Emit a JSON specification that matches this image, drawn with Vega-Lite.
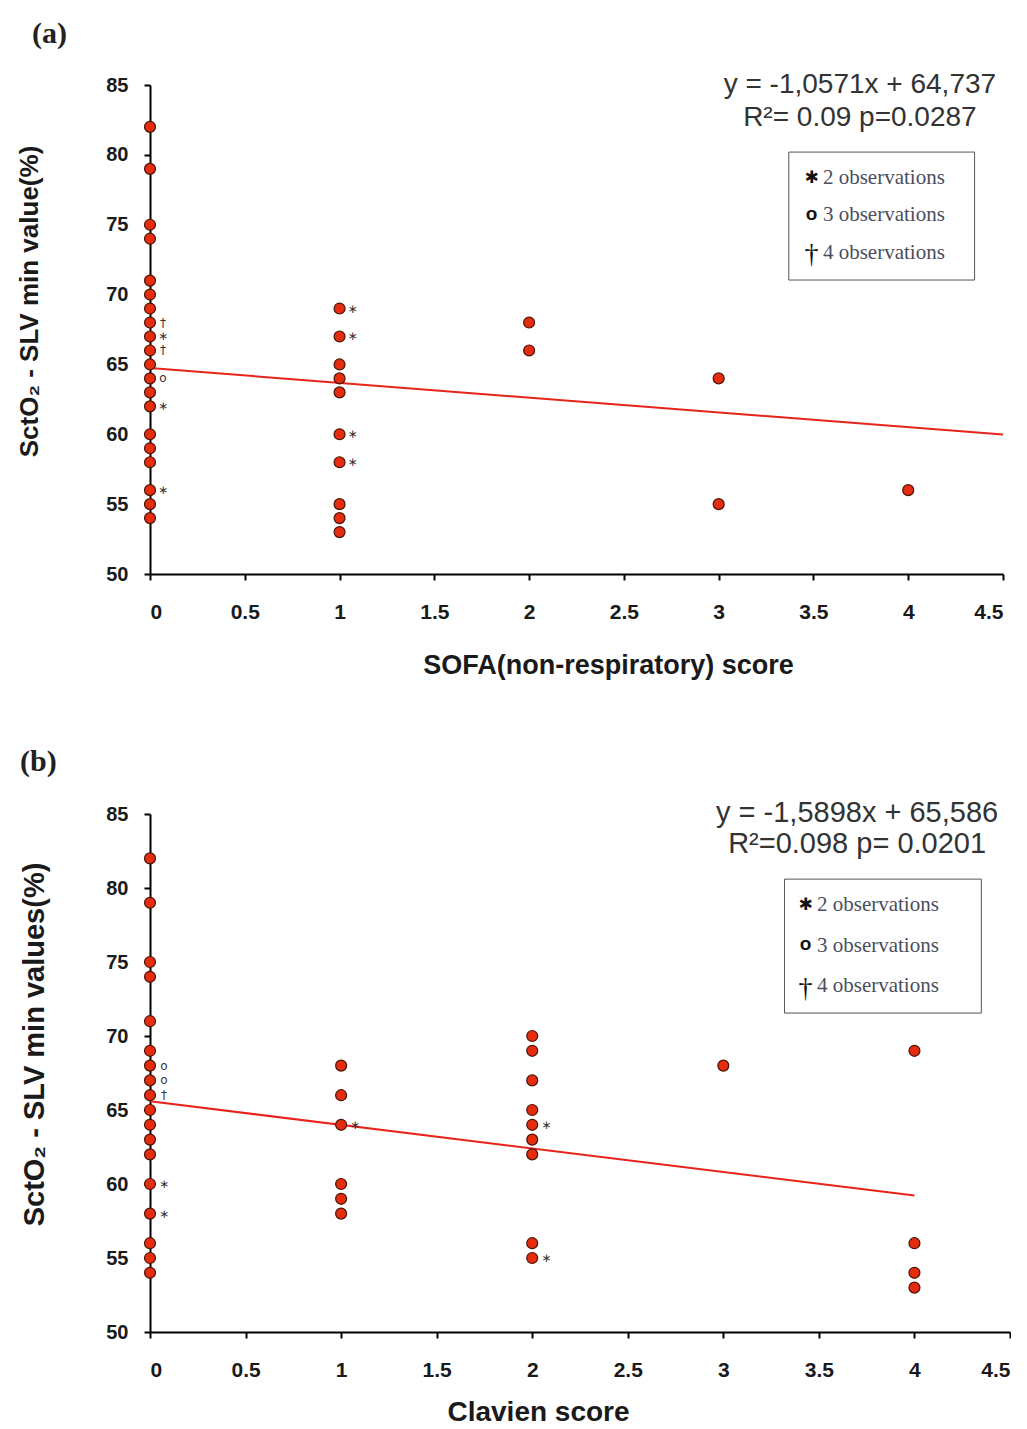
{
  "$schema": "https://vega.github.io/schema/vega-lite/v6.json",
  "padding": {"left": 15, "top": 19, "right": 0, "bottom": 0},
  "background": "white",
  "datasets": {
    "a": [
      {"x": 0, "y": 82, "note": ""}, {"x": 0, "y": 79, "note": ""}, {"x": 0, "y": 75, "note": ""}, {"x": 0, "y": 74, "note": ""},
      {"x": 0, "y": 71, "note": ""}, {"x": 0, "y": 70, "note": ""}, {"x": 0, "y": 69, "note": ""}, {"x": 0, "y": 68, "note": "†"},
      {"x": 0, "y": 67, "note": "∗"}, {"x": 0, "y": 66, "note": "†"}, {"x": 0, "y": 65, "note": ""}, {"x": 0, "y": 64, "note": "o"},
      {"x": 0, "y": 63, "note": ""}, {"x": 0, "y": 62, "note": "∗"}, {"x": 0, "y": 60, "note": ""}, {"x": 0, "y": 59, "note": ""},
      {"x": 0, "y": 58, "note": ""}, {"x": 0, "y": 56, "note": "∗"}, {"x": 0, "y": 55, "note": ""}, {"x": 0, "y": 54, "note": ""},
      {"x": 1, "y": 69, "note": "∗"}, {"x": 1, "y": 67, "note": "∗"}, {"x": 1, "y": 65, "note": ""}, {"x": 1, "y": 64, "note": ""},
      {"x": 1, "y": 63, "note": ""}, {"x": 1, "y": 60, "note": "∗"}, {"x": 1, "y": 58, "note": "∗"}, {"x": 1, "y": 55, "note": ""},
      {"x": 1, "y": 54, "note": ""}, {"x": 1, "y": 53, "note": ""},
      {"x": 2, "y": 68, "note": ""}, {"x": 2, "y": 66, "note": ""},
      {"x": 3, "y": 64, "note": ""}, {"x": 3, "y": 55, "note": ""},
      {"x": 4, "y": 56, "note": ""}
    ],
    "b": [
      {"x": 0, "y": 82, "note": ""}, {"x": 0, "y": 79, "note": ""}, {"x": 0, "y": 75, "note": ""}, {"x": 0, "y": 74, "note": ""},
      {"x": 0, "y": 71, "note": ""}, {"x": 0, "y": 69, "note": ""}, {"x": 0, "y": 68, "note": "o"}, {"x": 0, "y": 67, "note": "o"},
      {"x": 0, "y": 66, "note": "†"}, {"x": 0, "y": 65, "note": ""}, {"x": 0, "y": 64, "note": ""}, {"x": 0, "y": 63, "note": ""},
      {"x": 0, "y": 62, "note": ""}, {"x": 0, "y": 60, "note": "∗"}, {"x": 0, "y": 58, "note": "∗"}, {"x": 0, "y": 56, "note": ""},
      {"x": 0, "y": 55, "note": ""}, {"x": 0, "y": 54, "note": ""},
      {"x": 1, "y": 68, "note": ""}, {"x": 1, "y": 66, "note": ""}, {"x": 1, "y": 64, "note": "∗"}, {"x": 1, "y": 60, "note": ""},
      {"x": 1, "y": 59, "note": ""}, {"x": 1, "y": 58, "note": ""},
      {"x": 2, "y": 70, "note": ""}, {"x": 2, "y": 69, "note": ""}, {"x": 2, "y": 67, "note": ""}, {"x": 2, "y": 65, "note": ""},
      {"x": 2, "y": 64, "note": "∗"}, {"x": 2, "y": 63, "note": ""}, {"x": 2, "y": 62, "note": ""}, {"x": 2, "y": 56, "note": ""},
      {"x": 2, "y": 55, "note": "∗"},
      {"x": 3, "y": 68, "note": ""},
      {"x": 4, "y": 69, "note": ""}, {"x": 4, "y": 56, "note": ""}, {"x": 4, "y": 54, "note": ""}, {"x": 4, "y": 53, "note": ""}
    ],
    "aline": [{"x": 0, "y": 64.737}, {"x": 4.5, "y": 59.98}],
    "bline": [{"x": 0, "y": 65.586}, {"x": 4, "y": 59.227}],
    "one": [{}]
  },
  "columns": 1,
  "align": "none",
  "spacing": 68,
  "concat": [
    {
      "width": 853,
      "height": 489,
      "title": {"text": "(a)", "anchor": "start", "frame": "bounds", "font": "Liberation Serif", "fontSize": 30, "fontWeight": "bold", "color": "#222", "offset": 22, "dx": 16},
      "layer": [
        {
          "data": {"name": "aline"},
          "mark": {"type": "line", "color": "#e8231a", "strokeWidth": 2},
          "encoding": {
            "x": {"field": "x", "type": "quantitative", "scale": {"domain": [0, 4.5], "nice": false, "zero": false}},
            "y": {"field": "y", "type": "quantitative", "scale": {"domain": [50, 85], "nice": false, "zero": false}}
          }
        },
        {
          "data": {"name": "a"},
          "mark": {"type": "circle", "size": 120, "fill": "#e62c0e", "stroke": "#4a1406", "strokeWidth": 1.2, "opacity": 1},
          "encoding": {
            "x": {"field": "x", "type": "quantitative",
              "axis": {"values": [0, 0.5, 1, 1.5, 2, 2.5, 3, 3.5, 4, 4.5], "format": "~g", "title": "SOFA(non-respiratory) score",
                "labelFontSize": 21, "labelPadding": 21, "titleX": 458, "titleY": 91, "titleAlign": "center", "titleBaseline": "middle", "titleFontSize": 27}},
            "y": {"field": "y", "type": "quantitative",
              "axis": {"values": [50, 55, 60, 65, 70, 75, 80, 85], "title": "SctO₂ - SLV min value(%)", "labelFontSize": 20, "labelPadding": 16,
                "titleX": -121, "titleY": 216, "titleAngle": -90, "titleAlign": "center", "titleBaseline": "middle", "titleFontSize": 26}}
          }
        },
        {
          "data": {"name": "a"},
          "transform": [{"filter": "datum.note != ''"}],
          "mark": {"type": "text", "dx": 13, "align": "center", "baseline": "middle", "font": "DejaVu Sans", "fontSize": 12, "color": "#333"},
          "encoding": {
            "x": {"field": "x", "type": "quantitative"},
            "y": {"field": "y", "type": "quantitative"},
            "text": {"field": "note"}
          }
        },
        {
          "data": {"name": "one"},
          "mark": {"type": "text", "text": "y = -1,0571x + 64,737", "align": "center", "baseline": "middle", "font": "Liberation Sans", "fontSize": 28, "color": "#333"},
          "encoding": {"x": {"datum": 3.745, "type": "quantitative"}, "y": {"datum": 85, "type": "quantitative"}}
        },
        {
          "data": {"name": "one"},
          "mark": {"type": "text", "text": "R²= 0.09 p=0.0287", "align": "center", "baseline": "middle", "font": "Liberation Sans", "fontSize": 28, "color": "#333"},
          "encoding": {"x": {"datum": 3.745, "type": "quantitative"}, "y": {"datum": 82.64, "type": "quantitative"}}
        },
        {
          "data": {"name": "one"},
          "mark": {"type": "rect", "fill": "white", "stroke": "#555", "strokeWidth": 1},
          "encoding": {"x": {"datum": 3.37, "type": "quantitative"}, "x2": {"datum": 4.35}, "y": {"datum": 80.2, "type": "quantitative"}, "y2": {"datum": 71.04}}
        },
        {
          "data": {"name": "one"},
          "mark": {"type": "text", "text": "✱", "align": "center", "baseline": "middle", "font": "DejaVu Sans", "fontSize": 17, "fontWeight": "bold", "color": "#111"},
          "encoding": {"x": {"datum": 3.49, "type": "quantitative"}, "y": {"datum": 78.34, "type": "quantitative"}}
        },
        {
          "data": {"name": "one"},
          "mark": {"type": "text", "text": "o", "align": "center", "baseline": "middle", "font": "Liberation Sans", "fontSize": 19, "fontWeight": "bold", "color": "#111"},
          "encoding": {"x": {"datum": 3.49, "type": "quantitative"}, "y": {"datum": 75.8, "type": "quantitative"}}
        },
        {
          "data": {"name": "one"},
          "mark": {"type": "text", "text": "†", "align": "center", "baseline": "middle", "font": "Liberation Serif", "fontSize": 28, "color": "#111"},
          "encoding": {"x": {"datum": 3.49, "type": "quantitative"}, "y": {"datum": 72.8, "type": "quantitative"}}
        },
        {
          "data": {"name": "one"},
          "mark": {"type": "text", "text": "2 observations", "align": "left", "baseline": "middle", "font": "Liberation Serif", "fontSize": 21, "color": "#4a4e5e"},
          "encoding": {"x": {"datum": 3.55, "type": "quantitative"}, "y": {"datum": 78.34, "type": "quantitative"}}
        },
        {
          "data": {"name": "one"},
          "mark": {"type": "text", "text": "3 observations", "align": "left", "baseline": "middle", "font": "Liberation Serif", "fontSize": 21, "color": "#4a4e5e"},
          "encoding": {"x": {"datum": 3.55, "type": "quantitative"}, "y": {"datum": 75.69, "type": "quantitative"}}
        },
        {
          "data": {"name": "one"},
          "mark": {"type": "text", "text": "4 observations", "align": "left", "baseline": "middle", "font": "Liberation Serif", "fontSize": 21, "color": "#4a4e5e"},
          "encoding": {"x": {"datum": 3.55, "type": "quantitative"}, "y": {"datum": 72.97, "type": "quantitative"}}
        }
      ]
    },
    {
      "width": 860,
      "height": 518,
      "title": {"text": "(b)", "anchor": "start", "frame": "bounds", "font": "Liberation Serif", "fontSize": 30, "fontWeight": "bold", "color": "#222", "offset": 22},
      "layer": [
        {
          "data": {"name": "bline"},
          "mark": {"type": "line", "color": "#e8231a", "strokeWidth": 2},
          "encoding": {
            "x": {"field": "x", "type": "quantitative", "scale": {"domain": [0, 4.5], "nice": false, "zero": false}},
            "y": {"field": "y", "type": "quantitative", "scale": {"domain": [50, 85], "nice": false, "zero": false}}
          }
        },
        {
          "data": {"name": "b"},
          "mark": {"type": "circle", "size": 120, "fill": "#e62c0e", "stroke": "#4a1406", "strokeWidth": 1.2, "opacity": 1},
          "encoding": {
            "x": {"field": "x", "type": "quantitative",
              "axis": {"values": [0, 0.5, 1, 1.5, 2, 2.5, 3, 3.5, 4, 4.5], "format": "~g", "title": "Clavien score",
                "labelFontSize": 21, "labelPadding": 21, "titleX": 388, "titleY": 80, "titleAlign": "center", "titleBaseline": "middle", "titleFontSize": 28}},
            "y": {"field": "y", "type": "quantitative",
              "axis": {"values": [50, 55, 60, 65, 70, 75, 80, 85], "title": "SctO₂ - SLV min values(%)", "labelFontSize": 20, "labelPadding": 16,
                "titleX": -116, "titleY": 230, "titleAngle": -90, "titleAlign": "center", "titleBaseline": "middle", "titleFontSize": 29}}
          }
        },
        {
          "data": {"name": "b"},
          "transform": [{"filter": "datum.note != ''"}],
          "mark": {"type": "text", "dx": 14, "align": "center", "baseline": "middle", "font": "DejaVu Sans", "fontSize": 12, "color": "#333"},
          "encoding": {
            "x": {"field": "x", "type": "quantitative"},
            "y": {"field": "y", "type": "quantitative"},
            "text": {"field": "note"}
          }
        },
        {
          "data": {"name": "one"},
          "mark": {"type": "text", "text": "y = -1,5898x + 65,586", "align": "center", "baseline": "middle", "font": "Liberation Sans", "fontSize": 29, "color": "#333"},
          "encoding": {"x": {"datum": 3.70, "type": "quantitative"}, "y": {"datum": 85.1, "type": "quantitative"}}
        },
        {
          "data": {"name": "one"},
          "mark": {"type": "text", "text": "R²=0.098 p= 0.0201", "align": "center", "baseline": "middle", "font": "Liberation Sans", "fontSize": 29, "color": "#333"},
          "encoding": {"x": {"datum": 3.70, "type": "quantitative"}, "y": {"datum": 82.97, "type": "quantitative"}}
        },
        {
          "data": {"name": "one"},
          "mark": {"type": "rect", "fill": "white", "stroke": "#555", "strokeWidth": 1},
          "encoding": {"x": {"datum": 3.32, "type": "quantitative"}, "x2": {"datum": 4.35}, "y": {"datum": 80.6, "type": "quantitative"}, "y2": {"datum": 71.55}}
        },
        {
          "data": {"name": "one"},
          "mark": {"type": "text", "text": "✱", "align": "center", "baseline": "middle", "font": "DejaVu Sans", "fontSize": 17, "fontWeight": "bold", "color": "#111"},
          "encoding": {"x": {"datum": 3.43, "type": "quantitative"}, "y": {"datum": 78.85, "type": "quantitative"}}
        },
        {
          "data": {"name": "one"},
          "mark": {"type": "text", "text": "o", "align": "center", "baseline": "middle", "font": "Liberation Sans", "fontSize": 19, "fontWeight": "bold", "color": "#111"},
          "encoding": {"x": {"datum": 3.43, "type": "quantitative"}, "y": {"datum": 76.2, "type": "quantitative"}}
        },
        {
          "data": {"name": "one"},
          "mark": {"type": "text", "text": "†", "align": "center", "baseline": "middle", "font": "Liberation Serif", "fontSize": 28, "color": "#111"},
          "encoding": {"x": {"datum": 3.43, "type": "quantitative"}, "y": {"datum": 73.2, "type": "quantitative"}}
        },
        {
          "data": {"name": "one"},
          "mark": {"type": "text", "text": "2 observations", "align": "left", "baseline": "middle", "font": "Liberation Serif", "fontSize": 21, "color": "#4a4e5e"},
          "encoding": {"x": {"datum": 3.49, "type": "quantitative"}, "y": {"datum": 78.85, "type": "quantitative"}}
        },
        {
          "data": {"name": "one"},
          "mark": {"type": "text", "text": "3 observations", "align": "left", "baseline": "middle", "font": "Liberation Serif", "fontSize": 21, "color": "#4a4e5e"},
          "encoding": {"x": {"datum": 3.49, "type": "quantitative"}, "y": {"datum": 76.1, "type": "quantitative"}}
        },
        {
          "data": {"name": "one"},
          "mark": {"type": "text", "text": "4 observations", "align": "left", "baseline": "middle", "font": "Liberation Serif", "fontSize": 21, "color": "#4a4e5e"},
          "encoding": {"x": {"datum": 3.49, "type": "quantitative"}, "y": {"datum": 73.4, "type": "quantitative"}}
        }
      ]
    }
  ],
  "config": {
    "view": {"stroke": null},
    "axis": {
      "grid": false,
      "domainColor": "#000",
      "domainWidth": 2,
      "tickColor": "#000",
      "tickWidth": 2,
      "tickSize": 6,
      "labelFont": "Liberation Sans",
      "labelFontWeight": "bold",
      "labelColor": "#1a1a1a",
      "titleFont": "Liberation Sans",
      "titleFontWeight": "bold",
      "titleColor": "#1a1a1a"
    }
  }
}
